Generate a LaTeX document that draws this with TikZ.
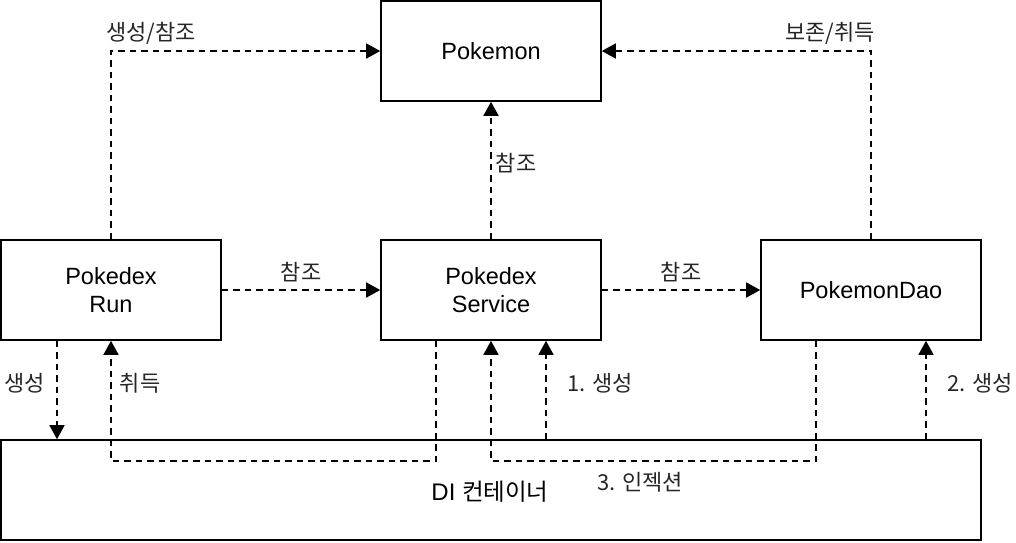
\documentclass[tikz,border=0pt]{standalone}
\usepackage{fontspec}
\setmainfont{Liberation Sans}
\newfontfamily\kr{Noto Sans CJK KR}
\usetikzlibrary{arrows.meta,calc}

\tikzset{
  box/.style={draw, line width=1.6pt, minimum width=220pt, minimum height=100pt,
    inner sep=0pt, align=center, font=\fontsize{23.5}{28}\selectfont},
  dep/.style={line width=1.6pt, dash pattern=on 6.5pt off 5pt,
    -{Triangle[length=14pt,width=15pt]}},
  lbl/.style={inner sep=0pt, text=black!85, font=\kr\fontsize{22}{26}\selectfont}
}

\begin{document}
\begin{tikzpicture}[x=1pt,y=-1pt]
\useasboundingbox (0,0) rectangle (1016,542);

\node[box] (pokemon) at (491,51) {Pokemon};
\node[box] (run) at (111,290) {Pokedex\\Run};
\node[box] (service) at (491,290) {Pokedex\\Service};
\node[box] (dao) at (871,290) {PokemonDao};
\node[box, minimum width=980pt] (di) at (491,490) {};
\node (dilabel) at (490,492) {\fontsize{24}{28}\selectfont DI {\kr\fontsize{23.5}{28}\selectfont 컨테이너}};

\coordinate (runL) at ($(run.south)+(-54,0)$);
\coordinate (svcL) at ($(service.south)+(-55,0)$);
\coordinate (svcR) at ($(service.south)+(55,0)$);
\coordinate (daoL) at ($(dao.south)+(-55,0)$);
\coordinate (daoR) at ($(dao.south)+(55,0)$);
\coordinate (low) at (0,461);

% uses
\draw[dep] (run.north) |- (pokemon.west);
\draw[dep] (dao.north) |- (pokemon.east);
\draw[dep] (service.north) -- (pokemon.south);
\draw[dep] (run.east) -- (service.west);
\draw[dep] (service.east) -- (dao.west);

% container
\draw[dep] (runL) -- (runL |- di.north);
\draw[dep] (svcL) -- (svcL |- low) -| (run.south);
\draw[dep] (svcR |- di.north) -- (svcR);
\draw[dep] (daoL) -- (daoL |- low) -| (service.south);
\draw[dep] (daoR |- di.north) -- (daoR);

\node[lbl] (l1) at (151,33) {생성/참조};
\node[lbl] (l2) at (830,33) {보존/취득};
\node[lbl] (l3) at (516,163) {참조};
\node[lbl] (l4) at (301,272) {참조};
\node[lbl] (l5) at (681,272) {참조};
\node[lbl] (l6) at (25,383) {생성};
\node[lbl] (l7) at (140,383) {취득};
\node[lbl] (l8) at (600,383) {1. 생성};
\node[lbl] (l9) at (980,383) {2. 생성};
\node[lbl] (l10) at (640,482) {3. 인젝션};
\end{tikzpicture}
\end{document}
